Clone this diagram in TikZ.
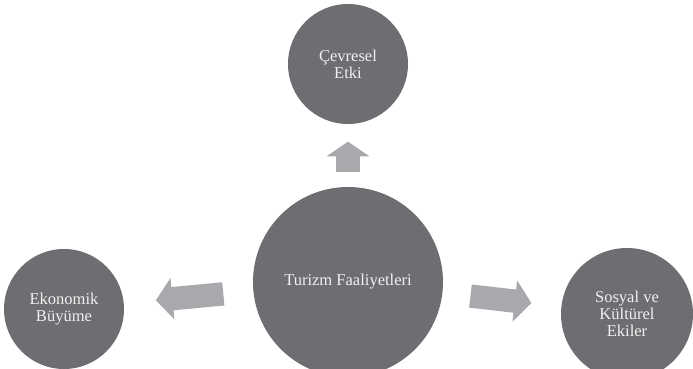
\documentclass[tikz,border=0pt]{standalone}
\usepackage{fontspec}
\setmainfont{Liberation Serif}
\usetikzlibrary{arrows.meta,positioning}
\definecolor{bubblegray}{HTML}{6D6E71}
\definecolor{arrowgray}{HTML}{A7A9AC}

\begin{document}
\begin{tikzpicture}[x=0.75pt,y=-0.75pt,
    bubble/.style={circle, fill=bubblegray, text=white!94!black, align=center, inner sep=0pt,
        font=\fontsize{12.4}{12.6}\selectfont},
    blockarrow/.style={draw=arrowgray, line width=17.5pt, -{Triangle[length=12.5pt, width=30.5pt]}}]
            \useasboundingbox (0,0) rectangle (693,368);

            \node[bubble, minimum size=142.5pt] (turizm) at (348,282) {Turizm Faaliyetleri};
            \node[bubble, minimum size=90pt] (cevre) at (348,64) {Çevresel\\Etki};
            \node[bubble, minimum size=90pt] (ekonomi) at (64,309) {Ekonomik\\Büyüme};
            \node[bubble, minimum size=99pt] (sosyal) at (627,314) {Sosyal ve\\Kültürel\\Ekiler};

            \draw[blockarrow, line width=18.5pt, -{Triangle[length=11pt, width=31.5pt]},
                shorten <=11pt, shorten >=13pt] (turizm) -- (cevre);
            \draw[blockarrow, shorten <=22.5pt, shorten >=24pt] (turizm) -- (ekonomi);
            \draw[blockarrow, shorten <=21pt, shorten >=22.5pt] (turizm) -- (sosyal);
        \end{tikzpicture}
\end{document}
